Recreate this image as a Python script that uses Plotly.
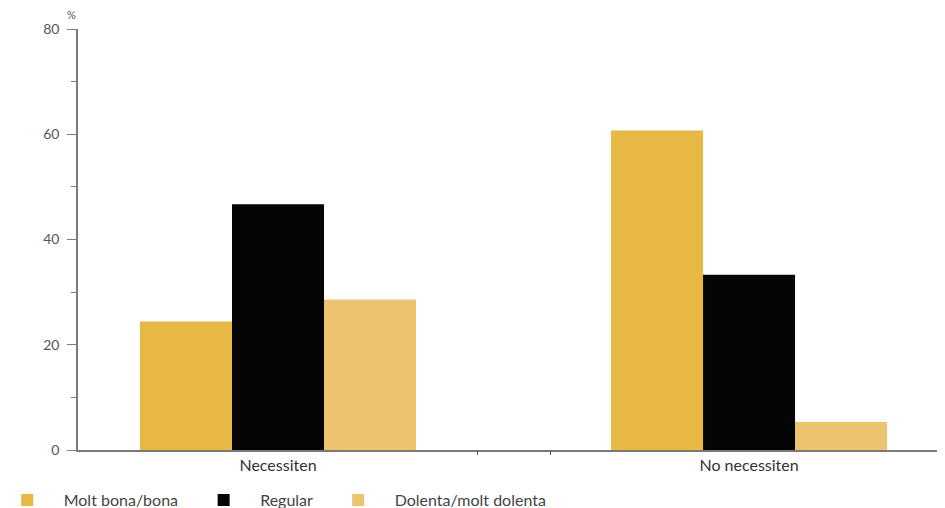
import plotly.graph_objects as go

# Data (%)
categories = ['Necessiten', 'No necessiten']
series_names = ['Molt bona/bona', 'Regular', 'Dolenta/molt dolenta']
molt_bona = [24.4, 60.7]
regular = [46.7, 33.3]
dolenta = [28.6, 5.3]
y_ticks = [0, 20, 40, 60, 80]
x_marks = [0.4225, 0.5775]  # the two small ticks between the groups

colors = ['#E7B944', '#050505', '#ECC470']

pad = '\u00a0'  # a little extra room after each legend entry

fig = go.Figure()
for name, vals, col in zip(series_names, [molt_bona, regular, dolenta], colors):
    fig.add_trace(go.Bar(x=categories, y=vals, name=name + pad,
                         marker=dict(color=col, line=dict(width=0))))

# empty trace so the overlay axis with the two small ticks gets drawn
fig.add_trace(go.Scatter(x=[], y=[], xaxis='x2', showlegend=False, hoverinfo='skip'))

axis_col = '#7a7a7a'
fig.update_layout(
    width=945, height=508,
    margin=dict(l=70, r=8, t=21, b=66, autoexpand=False),
    plot_bgcolor='white', paper_bgcolor='white',
    barmode='group', bargap=0.414, bargroupgap=0,
    font=dict(family='Lato', color='#333'),
    showlegend=True,
    legend=dict(orientation='h', x=-0.1007, xanchor='left', y=-0.119, yanchor='middle',
                font=dict(size=16, color='#444'), traceorder='normal', itemwidth=63),
    xaxis=dict(range=[-0.4246, 1.416], showline=True, linecolor=axis_col, linewidth=1.5,
               ticks='', showgrid=False, tickfont=dict(size=16, color='#333'),
               zeroline=False, automargin=False),
    xaxis2=dict(overlaying='x', anchor='y', side='bottom', range=[-0.4246, 1.416],
                tickvals=x_marks, ticks='outside', ticklen=4, tickcolor='#555',
                showticklabels=False, showline=False, showgrid=False, zeroline=False),
    yaxis=dict(range=[0, 80], tickvals=y_ticks, showline=True, linecolor=axis_col,
               linewidth=1.5, ticks='outside', ticklen=9, tickcolor=axis_col,
               showgrid=False, zeroline=False, tickfont=dict(size=14, color='#555'),
               automargin=False, ticklabelstandoff=5,
               minor=dict(dtick=10, ticks='outside', ticklen=5, tickcolor=axis_col)),
)
fig.add_annotation(text='%', xref='paper', yref='paper', x=0.0, y=1.0, yshift=15,
                   xanchor='right', yanchor='middle', showarrow=False,
                   font=dict(size=11, color='#555'))

fig.write_html('out.html')
